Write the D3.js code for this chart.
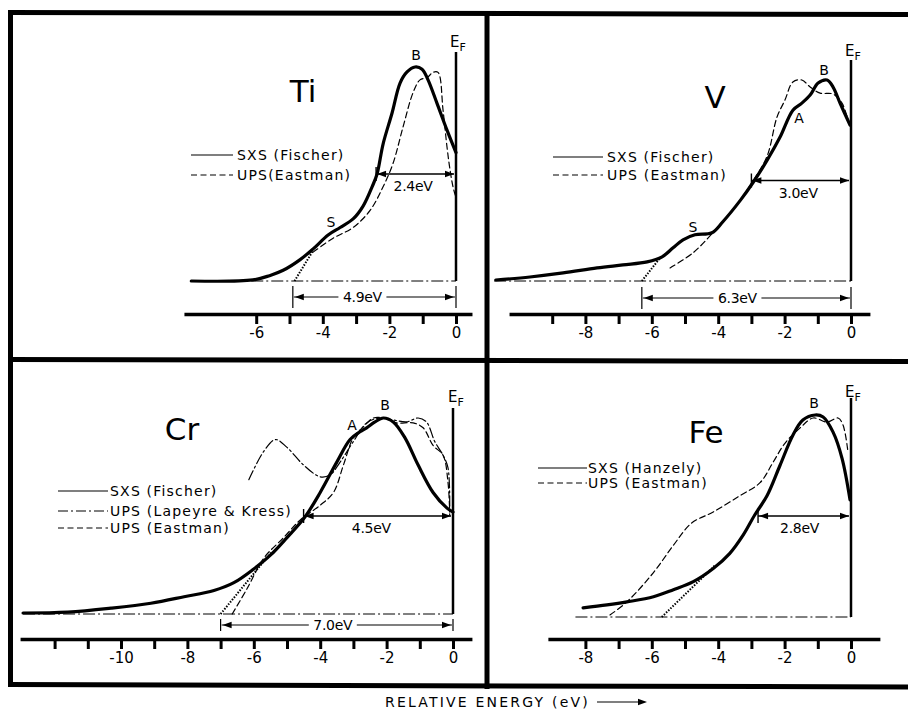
<!DOCTYPE html>
<meta charset="utf-8">
<head>
<style>
  body { margin: 0; background: #fff; }
  text { font-family: "DejaVu Sans", sans-serif; fill: #000; }
</style>
<script src="https://cdn.jsdelivr.net/npm/d3@7"></script>
</head>
<body>
<script>
// ---- data (energy in eV, intensity normalised to peak = 1) ----
var tiSxs = [[-7.95,0],[-6.1,0.005],[-5.6,0.025],[-5.19,0.05],[-4.68,0.1],[-4.29,0.15],[-3.84,0.215],[-3.48,0.25],[-3.09,0.29],[-2.79,0.35],[-2.52,0.44],[-2.37,0.5],[-2.19,0.64],[-1.92,0.785],[-1.68,0.925],[-1.47,0.977],[-1.23,1.0],[-1.02,0.99],[-0.84,0.94],[-0.57,0.83],[-0.27,0.705],[0,0.6]];
var tiUps = [[-4.29,0.135],[-3.69,0.2],[-3.09,0.25],[-2.58,0.33],[-2.19,0.44],[-1.89,0.55],[-1.59,0.72],[-1.29,0.88],[-1.08,0.94],[-0.87,0.95],[-0.69,0.975],[-0.54,0.975],[-0.39,0.8],[-0.27,0.626],[-0.18,0.52],[-0.09,0.44],[-0.02,0.4]];
var tiExtrap = [[-4.85,0],[-4.3,0.14]];

var vSxs = [[-10.7,0.005],[-9.67,0.02],[-8.67,0.04],[-7.65,0.065],[-6.87,0.08],[-6.14,0.095],[-5.69,0.12],[-5.36,0.165],[-5.06,0.205],[-4.7,0.23],[-4.19,0.24],[-3.86,0.295],[-3.34,0.4],[-2.95,0.49],[-2.53,0.6],[-2.14,0.715],[-1.75,0.85],[-1.48,0.885],[-1.23,0.925],[-0.99,0.985],[-0.72,1.0],[-0.54,0.965],[-0.33,0.885],[-0.03,0.776]];
var vUps = [[-5.45,0.065],[-4.76,0.14],[-4.16,0.24],[-3.55,0.355],[-2.98,0.49],[-2.53,0.62],[-2.23,0.815],[-1.99,0.9],[-1.75,0.99],[-1.48,1.0],[-1.23,0.965],[-0.93,0.935],[-0.54,0.93],[-0.27,0.885],[-0.09,0.8]];
var vExtrap = [[-6.3,0],[-5.75,0.115]];

var crSxs = [[-12.95,0.005],[-11.6,0.01],[-10.3,0.03],[-9.1,0.055],[-8.1,0.088],[-7.2,0.12],[-6.6,0.16],[-6.0,0.23],[-5.5,0.3],[-5.0,0.39],[-4.46,0.495],[-4.0,0.62],[-3.5,0.775],[-3.1,0.89],[-2.8,0.93],[-2.6,0.95],[-2.35,0.98],[-2.1,1.0],[-1.8,0.98],[-1.45,0.9],[-1.05,0.76],[-0.6,0.62],[-0.18,0.54],[0,0.52]];
var crUpsLK = [[-6.15,0.685],[-5.7,0.83],[-5.35,0.89],[-5.0,0.85],[-4.5,0.76],[-4.0,0.7],[-3.7,0.71],[-3.4,0.775],[-3.0,0.88],[-2.6,0.975],[-2.2,1.0],[-1.8,0.99],[-1.4,0.98],[-1.05,1.0],[-0.8,0.98],[-0.55,0.88],[-0.3,0.81],[-0.15,0.745],[-0.1,0.505]];
var crUps = [[-6.65,0],[-6.2,0.13],[-5.7,0.285],[-5.1,0.39],[-4.6,0.48],[-4.0,0.555],[-3.6,0.62],[-3.3,0.76],[-3.0,0.9],[-2.7,0.955],[-2.4,1.0],[-2.1,1.0],[-1.7,0.975],[-1.2,0.975],[-0.9,0.95],[-0.6,0.86],[-0.3,0.81],[-0.15,0.67],[-0.1,0.52]];
var crExtrap = [[-7.0,0],[-5.45,0.32]];

var feSxs = [[-8.07,0.045],[-7.35,0.06],[-6.75,0.075],[-5.95,0.1],[-5.35,0.135],[-4.75,0.175],[-4.15,0.24],[-3.65,0.315],[-3.25,0.405],[-2.9,0.505],[-2.53,0.6],[-2.14,0.75],[-1.75,0.9],[-1.45,0.975],[-1.08,1.0],[-0.84,0.99],[-0.54,0.915],[-0.27,0.785],[-0.03,0.58]];
var feUps = [[-7.26,0.01],[-6.75,0.075],[-5.95,0.22],[-5.35,0.355],[-4.8,0.465],[-4.15,0.52],[-3.35,0.6],[-2.74,0.665],[-2.35,0.765],[-1.99,0.86],[-1.54,0.935],[-1.14,0.985],[-0.72,0.965],[-0.39,0.985],[-0.24,0.95],[-0.09,0.815]];
var feExtrap = [[-5.7,0],[-4.1,0.255]];

var halfWidths = [2.4, 3.0, 4.5, 2.8];
var bandWidths = [4.9, 6.3, 7.0, null];

var tiTicks = [-6,-5,-4,-3,-2,-1,0];
var vTicks = [-9,-8,-7,-6,-5,-4,-3,-2,-1,0];
var crTicks = [-12,-11,-10,-9,-8,-7,-6,-5,-4,-3,-2,-1,0];
var feTicks = [-8,-7,-6,-5,-4,-3,-2,-1,0];
var tiTickLabels = [-6,-4,-2,0];
var vTickLabels = [-8,-6,-4,-2,0];
var crTickLabels = [-10,-8,-6,-4,-2,0];
var feTickLabels = [-8,-6,-4,-2,0];

var tiLegend = ["SXS (Fischer)", "UPS(Eastman)"];
var vLegend = ["SXS (Fischer)", "UPS (Eastman)"];
var crLegend = ["SXS (Fischer)", "UPS (Lapeyre & Kress)", "UPS (Eastman)"];
var feLegend = ["SXS (Hanzely)", "UPS (Eastman)"];

// ---- layout ----
var panels = [
  { title: "Ti", tx: 303, ty: 102, zeroX: 456, unit: 33.3, baseY: 281, topY: 67, axisY: 314,
    from: -8.17, to: 0.48, baseFrom: -7.95, efTop: 52, ticks: tiTicks, tickLabels: tiTickLabels,
    curves: [[tiSxs, "solid"], [tiUps, "dash"]], extrap: tiExtrap, half: halfWidths[0], band: bandWidths[0],
    bandY: 297, bandBar: 11, bandDx: -12, halfDx: -2,
    legend: tiLegend, legendStyles: ["solid", "dash"], lx0: 191, lx1: 233, ly: [155, 175], ltx: 237,
    marks: [["B", 416, 60], ["S", 331, 227]], ef: [450, 47] },
  { title: "V", tx: 715, ty: 108, zeroX: 851, unit: 33.2, baseY: 281, topY: 80, axisY: 314,
    from: -10.3, to: 0.57, baseFrom: -10.75, efTop: 60, ticks: vTicks, tickLabels: vTickLabels,
    curves: [[vSxs, "solid"], [vUps, "dash"]], extrap: vExtrap, half: halfWidths[1], band: bandWidths[1],
    bandY: 298, bandBar: 11, bandDx: -9, halfDx: -2,
    legend: vLegend, legendStyles: ["solid", "dash"], lx0: 553, lx1: 603, ly: [157, 175], ltx: 607,
    marks: [["B", 824, 75], ["A", 799, 123], ["S", 693, 232]], ef: [845, 56] },
  { title: "Cr", tx: 182, ty: 440, zeroX: 453, unit: 33.2, baseY: 614, topY: 418, axisY: 639,
    from: -13.04, to: 0.57, baseFrom: -12.95, efTop: 408, ticks: crTicks, tickLabels: crTickLabels,
    curves: [[crSxs, "solid"], [crUpsLK, "dashdot"], [crUps, "dash"]], extrap: crExtrap, half: halfWidths[2], band: bandWidths[2],
    bandY: 625, bandBar: 6, bandDx: -4, halfDx: -6,
    legend: crLegend, legendStyles: ["solid", "dashdot", "dash"], lx0: 58, lx1: 108, ly: [491, 511, 528], ltx: 110,
    marks: [["A", 352, 430], ["B", 385, 410]], ef: [448, 402] },
  { title: "Fe", tx: 706, ty: 443, zeroX: 851, unit: 33.2, baseY: 617, topY: 415, axisY: 639,
    from: -9.13, to: 0.87, baseFrom: -8.3, efTop: 398, ticks: feTicks, tickLabels: feTickLabels,
    curves: [[feSxs, "solid"], [feUps, "dash"]], extrap: feExtrap, half: halfWidths[3], band: bandWidths[3],
    bandY: 0, bandBar: 0, bandDx: 0, halfDx: -4,
    legend: feLegend, legendStyles: ["solid", "dash"], lx0: 538, lx1: 587, ly: [468, 483], ltx: 588,
    marks: [["B", 814, 408]], ef: [845, 397] }
];

var styles = {
  solid:   { w: 3.2, dash: null },
  dash:    { w: 1.2, dash: "6,3.5" },
  dashdot: { w: 1.2, dash: "10,3,2,3" }
};

var svg = d3.select("body").append("svg")
    .attr("width", 908)
    .attr("height", 709);

svg.append("rect").attr("width", 908).attr("height", 709).attr("fill", "#fff");

// frame
var frame = [
  [[8, 12.5], [908, 14.5]],
  [[10.5, 10], [10.5, 687]],
  [[487, 12], [487, 689]],
  [[8, 359.5], [908, 361.5]],
  [[8, 684.5], [908, 687]]
];
svg.append("g").selectAll("path")
    .data(frame)
  .enter().append("path")
    .attr("d", d3.line())
    .attr("stroke", "#000")
    .attr("stroke-width", 5)
    .attr("fill", "none");

function arrowHead(g, x, y, dir) {
  // dir = -1 points left, +1 points right
  g.append("path")
    .attr("d", "M" + x + "," + y + "L" + (x - dir * 9) + "," + (y - 3.2) + "L" + (x - dir * 9) + "," + (y + 3.2) + "Z")
    .attr("fill", "#000");
}

panels.forEach(function(p) {
  var x = d3.scaleLinear()
      .domain([p.from, p.to])
      .range([p.zeroX + p.from * p.unit, p.zeroX + p.to * p.unit]);
  var y = d3.scaleLinear().domain([0, 1]).range([p.baseY, p.topY]);
  var g = svg.append("g");

  var smooth = d3.line()
      .x(function(d) { return x(d[0]); })
      .y(function(d) { return y(d[1]); })
      .curve(d3.curveCatmullRom.alpha(0.5));
  var straight = d3.line()
      .x(function(d) { return x(d[0]); })
      .y(function(d) { return y(d[1]); });

  // axis
  var axis = d3.axisBottom(x)
      .tickValues(p.ticks)
      .tickSize(10)
      .tickSizeOuter(0)
      .tickFormat(function(d) { return p.tickLabels.indexOf(d) >= 0 ? String(d) : ""; });
  var ax = g.append("g")
      .attr("transform", "translate(0," + p.axisY + ")")
      .call(axis);
  ax.select(".domain").attr("stroke-width", 3.5).attr("stroke", "#000");
  ax.selectAll(".tick line").attr("stroke-width", 3).attr("stroke", "#000");
  ax.selectAll(".tick text")
      .style("font-family", "DejaVu Sans, sans-serif")
      .style("font-size", "15px")
      .attr("fill", "#000");

  // dash-dot baseline
  g.append("line")
      .attr("x1", x(p.baseFrom)).attr("x2", x(0))
      .attr("y1", y(0)).attr("y2", y(0))
      .attr("stroke", "#000").attr("stroke-width", 1)
      .attr("stroke-dasharray", "12,3,2,3");

  // Fermi level line
  g.append("line")
      .attr("x1", x(0)).attr("x2", x(0))
      .attr("y1", p.efTop).attr("y2", y(0))
      .attr("stroke", "#000").attr("stroke-width", 2.5);

  // extrapolation
  g.append("path")
      .attr("d", straight(p.extrap))
      .attr("fill", "none").attr("stroke", "#000")
      .attr("stroke-width", 2).attr("stroke-dasharray", "1.5,1.5");

  // curves (thin ones first)
  p.curves.slice().reverse().forEach(function(c) {
    var s = styles[c[1]];
    g.append("path")
        .attr("d", smooth(c[0]))
        .attr("fill", "none")
        .attr("stroke", "#000")
        .attr("stroke-width", s.w)
        .attr("stroke-linejoin", "round")
        .attr("stroke-linecap", "round")
        .attr("stroke-dasharray", s.dash);
  });

  // half width marker
  var hy = y(0.5), hx1 = x(-p.half), hx2 = x(0) - 2;
  g.append("line").attr("x1", hx1).attr("x2", hx2).attr("y1", hy).attr("y2", hy)
      .attr("stroke", "#000").attr("stroke-width", 1.4);
  g.append("line").attr("x1", hx1).attr("x2", hx1).attr("y1", hy - 7).attr("y2", hy + 7)
      .attr("stroke", "#000").attr("stroke-width", 1.4);
  arrowHead(g, hx1 + 1, hy, -1);
  arrowHead(g, hx2, hy, 1);
  g.append("text")
      .attr("x", (hx1 + hx2) / 2 + p.halfDx)
      .attr("y", hy + 17)
      .attr("text-anchor", "middle")
      .style("font-size", "14px")
      .style("letter-spacing", "-0.3px")
      .text(p.half.toFixed(1) + "eV");

  // band width marker
  if (p.band) {
    var bx1 = x(-p.band), bx2 = x(0);
    g.append("line").attr("x1", bx1 + 1).attr("x2", bx2 - 1).attr("y1", p.bandY).attr("y2", p.bandY)
        .attr("stroke", "#000").attr("stroke-width", 1.2);
    [bx1, bx2].forEach(function(bx) {
      g.append("line").attr("x1", bx).attr("x2", bx)
          .attr("y1", p.bandY - p.bandBar).attr("y2", p.bandY + p.bandBar)
          .attr("stroke", "#000").attr("stroke-width", 1.2);
    });
    arrowHead(g, bx1 + 2, p.bandY, -1);
    arrowHead(g, bx2 - 2, p.bandY, 1);
    var tx = (bx1 + bx2) / 2 + p.bandDx;
    g.append("rect").attr("x", tx - 24).attr("y", p.bandY - 7).attr("width", 48).attr("height", 14).attr("fill", "#fff");
    g.append("text")
        .attr("x", tx).attr("y", p.bandY + 5)
        .attr("text-anchor", "middle")
        .style("font-size", "14px")
        .style("letter-spacing", "-0.3px")
        .text(p.band.toFixed(1) + "eV");
  }

  // legend
  p.legend.forEach(function(label, i) {
    var s = styles[p.legendStyles[i]];
    g.append("line")
        .attr("x1", p.lx0).attr("x2", p.lx1)
        .attr("y1", p.ly[i]).attr("y2", p.ly[i])
        .attr("stroke", "#000").attr("stroke-width", 1.2)
        .attr("stroke-dasharray", s.dash);
    g.append("text")
        .attr("x", p.ltx).attr("y", p.ly[i] + 5)
        .style("font-size", "14px")
        .style("letter-spacing", "1.2px")
        .text(label);
  });

  // title
  g.append("text")
      .attr("x", p.tx).attr("y", p.ty)
      .attr("text-anchor", "middle")
      .style("font-size", "31px")
      .text(p.title);

  // feature labels
  p.marks.forEach(function(m) {
    g.append("text").attr("x", m[1]).attr("y", m[2])
        .attr("text-anchor", "middle")
        .style("font-size", "14px")
        .text(m[0]);
  });

  // E_F
  var ef = g.append("text").attr("x", p.ef[0]).attr("y", p.ef[1]).style("font-size", "15px");
  ef.append("tspan").text("E");
  ef.append("tspan").attr("dy", 4).style("font-size", "11px").text("F");
});

// bottom caption
svg.append("text").attr("x", 385).attr("y", 707)
    .style("font-size", "14px").style("letter-spacing", "2.2px")
    .text("RELATIVE ENERGY (eV)");
svg.append("line").attr("x1", 597).attr("x2", 640).attr("y1", 702).attr("y2", 702)
    .attr("stroke", "#000").attr("stroke-width", 1.2);
arrowHead(svg, 647, 702, 1);
</script>
</body>
